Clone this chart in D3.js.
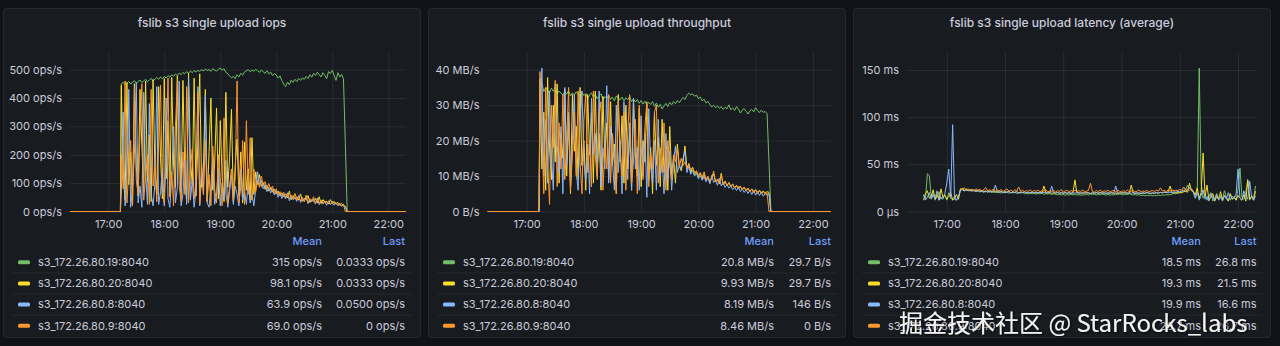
<!DOCTYPE html>
<html>
<head>
<meta charset="utf-8">
<script src="https://cdn.jsdelivr.net/npm/d3@7"></script>
<style>
	body { margin: 0; background: #111217; }
	svg { display: block; font-family: Inter, "Noto Sans", sans-serif; }
</style>
</head>
<body>
<svg id="chart" width="1280" height="346"></svg>
<script>
// series names / colours (legend order)
const hosts = ['s3_172.26.80.19:8040', 's3_172.26.80.20:8040', 's3_172.26.80.8:8040', 's3_172.26.80.9:8040'];
const hostColors = ['#73bf69', '#fade2a', '#8ab8ff', '#ff9830'];

// time axis
const rangeStart = '16:19', rangeEnd = '22:19';
const hourTicks = ['17:00', '18:00', '19:00', '20:00', '21:00', '22:00'];
const stepMin = 2; // samples every 2 minutes
const burstStart = '17:14', burstIdleBefore = '17:13', burstIdleAfter = '21:16';
const latStart = '16:36', latOrangeStart = '17:14';

// ---- iops (ops/s), 17:14 .. 21:14 ----
const iopsGreen = [
	450,455,446,452,458,449,455,461,452,458,463,454,460,466,457,463,469,460,466,472,
	466,474,468,476,470,479,473,482,476,485,479,488,482,490,485,493,487,495,489,497,
	491,498,493,500,495,502,497,500,494,503,498,495,501,506,498,503,490,486,478,471,
	476,468,482,474,487,480,492,496,500,492,499,494,501,496,490,499,492,487,496,485,
	491,479,486,481,470,478,461,449,440,456,447,463,455,466,458,469,462,471,465,476,
	468,482,473,487,479,491,482,474,489,480,468,493,486,497,480,462,489,474,483,468,240];
const iopsYellow = [
	445,130,40,455,95,210,25,450,160,55,430,230,70,460,105,270,35,465,140,60,
	440,190,45,468,115,320,55,472,160,85,478,210,65,462,135,35,488,185,95,470,
	55,240,485,85,160,430,35,210,400,75,170,365,45,320,125,35,420,85,190,360,
	35,160,255,55,210,30,245,75,150,40,260,60,140,95,130,88,102,78,92,72,
	86,68,78,62,72,56,66,52,62,48,72,42,56,46,52,40,62,36,46,42,
	56,32,42,36,46,30,52,28,42,32,36,26,42,28,36,26,32,22,28,20,18];
const iopsBlue = [
	60,350,20,110,430,15,80,200,455,30,90,15,420,140,25,380,60,20,100,440,
	25,70,150,20,400,45,15,120,300,30,85,460,20,60,180,25,470,40,110,15,
	75,440,20,130,60,410,30,15,90,200,25,60,150,20,100,40,180,15,70,130,
	25,90,60,20,150,40,70,25,110,30,60,20,80,140,95,110,80,95,70,85,
	65,80,58,72,50,64,46,60,44,66,38,52,42,48,36,56,32,44,38,50,
	28,40,34,44,26,48,24,38,30,34,22,38,26,32,22,30,20,26,18,24,16];
const iopsOrange = [
	200,80,460,30,150,250,20,440,110,60,280,450,40,120,200,25,430,90,160,35,
	250,445,70,30,180,470,50,140,20,300,460,90,35,210,60,440,30,150,220,45,
	100,420,25,170,60,250,35,130,20,230,80,30,200,120,20,330,60,25,90,150,
	40,120,460,30,90,250,25,320,60,260,40,150,70,110,85,125,92,105,80,98,
	76,90,64,80,58,70,54,68,50,62,46,58,42,64,40,52,38,50,34,58,
	30,46,38,52,28,44,30,40,26,38,30,34,24,36,28,32,24,30,20,26,0];
const iopsTicks = [0, 100, 200, 300, 400, 500];
const iopsMean = ['315 ops/s', '98.1 ops/s', '63.9 ops/s', '69.0 ops/s'];
const iopsLast = ['0.0333 ops/s', '0.0333 ops/s', '0.0500 ops/s', '0 ops/s'];

// ---- throughput (MB/s), 17:14 .. 21:14 ----
const tpGreen = [
	34.5,36.2,33.8,35.0,34.2,33.5,34.8,33.9,35.1,33.2,34.0,33.4,32.8,33.9,33.1,34.2,32.6,33.5,32.9,33.8,
	33.0,32.4,33.6,32.7,33.3,31.9,32.8,33.5,32.2,33.0,31.8,32.6,33.2,31.5,32.4,31.9,32.8,31.6,32.3,31.2,
	32.6,32.0,31.5,32.3,31.2,32.1,31.5,32.4,31.0,31.8,30.9,31.6,30.5,31.3,30.3,31.1,30.0,30.8,30.2,31.0,
	29.7,30.6,29.4,30.2,28.9,29.8,30.5,29.6,30.8,30.1,31.0,30.4,31.3,30.7,31.5,32.2,31.6,32.8,33.4,32.9,
	33.2,32.5,32.9,31.8,32.3,31.2,31.7,30.6,31.1,30.2,29.5,30.0,29.3,29.8,29.1,29.6,28.8,29.4,29.0,30.1,
	28.7,29.2,28.5,29.6,28.9,27.8,28.6,29.0,28.3,27.5,28.4,28.8,28.1,29.3,28.5,27.9,28.6,28.0,28.2,27.6,14.0];
const tpYellow = [
	37.5,12,28,6,37.8,18,9,30,14,36,8,22,15,34.5,10,26,5,33,17,24,
	9,35,13,20,6,33,16,28,8,34,12,22,6,32.5,15,25,9,31,13,19,
	5,33,14,27,8,30,12,22,6,31.5,16,10,29,7,20,14,30,9,18,5,
	28,13,21,7,26,11,17,6,24,10,15,8,19,13,11.5,14,18.5,12,13.5,11,
	12.5,10.5,11.2,9.8,11,9.2,10.4,8.8,9.6,8.2,9.4,10.6,8.4,8.9,7.8,10.8,7.5,8.6,7.2,8.2,
	6.9,7.8,6.6,7.4,6.4,7.2,6.1,6.9,5.9,6.6,5.7,6.4,5.5,6.2,5.4,6.0,5.3,5.8,5.2,5.6,5.4];
const tpBlue = [
	20,40.5,10,26,8,34,15,6,36,19,11,24,5,35,13,28,7,20,33,11,
	6,25,34,14,9,19,5,32,16,22,10,34,7,18,12,35.5,8,24,14,6,
	30,11,20,5,31,15,9,25,6,32,12,18,6,27,10,22,4,29,13,8,
	20,6,26,10,15,5,22,9,17,6,14,18.5,11,13,12,15,17,11,12.8,10.5,
	11.6,10,10.8,9.2,10.2,8.8,9.8,8.4,9.6,7.8,10.2,8.2,8.8,7.4,9.4,7.2,8.2,6.8,7.6,6.6,
	7.2,6.2,6.8,5.9,7.0,5.6,6.4,5.4,6.2,5.1,6.0,4.8,5.9,4.6,5.6,4.5,5.4,4.3,5.1,4.6,5.0];
const tpOrange = [
	39.5,22,5,35,14,2,30,18,37,7,25,12,33,9,20,35,6,16,28,10,
	34,14,5,26,33,11,20,7,34,16,9,27,31,6,18,12,33,8,22,15,
	5,31,17,10,28,6,22,33,8,14,26,5,30,19,9,24,31,7,16,12,
	28,30,8,18,11,25,6,20,13,9,16,14,18,12.5,15,13,14,12.2,13.5,11.8,
	12.4,11,11.5,10.2,10.8,9.6,11.2,9,10,8.6,9.4,11.4,8.4,9.2,8,10.2,7.6,8.4,7.4,8,
	7.1,7.6,6.8,7.2,6.5,7,6.2,6.8,5.8,6.5,5.6,6.3,5.3,6,5.1,5.8,5,5.6,4.9,5.3,0];
const tpTicks = [0, 10, 20, 30, 40];
const tpMean = ['20.8 MB/s', '9.93 MB/s', '8.19 MB/s', '8.46 MB/s'];
const tpLast = ['29.7 B/s', '29.7 B/s', '146 B/s', '0 B/s'];

// ---- latency (ms), 16:36 .. 22:18 (orange 17:14 .. 21:14) ----
const latGreen = [
	17,13,40,38,14,19,12,16,21,13,15,18,12,20,14,13,16,12,15,
	24,23,22.5,24,22,23.5,21.8,23,22.2,21.5,22.8,21,22,20.8,21.6,20.5,21.2,20.2,21,19.8,
	20.6,19.5,20.4,19.8,20.9,19.2,20.1,19.6,20.3,19,19.8,19.4,20.2,18.8,19.6,18.5,19.3,18.9,19.7,18.4,
	19.1,18.7,19.5,18.2,18.9,18.5,19.2,18,18.7,18.3,17.8,18.4,17.5,18.1,17.2,17.9,17.4,18.2,17.6,18.5,
	17.3,18,17.1,17.8,17.4,18.3,17.6,18.8,17.9,18.4,17.5,18.1,17.7,18.6,17.9,17.4,18.2,17.2,17.8,17.5,
	18.3,17.9,18.6,18.1,17.6,18.4,17.8,18.9,18.2,17.5,18,17.3,17.8,16.9,17.4,16.6,17.2,16.8,17.5,16.5,
	17.1,16.7,17.3,16.9,17.6,17.2,18,17.4,17.9,18.5,19.2,18.6,20.1,19.5,20.8,22,23.5,28,24.5,23,
	21.5,
	15,22,152,30,14,18,12,16,20,11,14,19,12,17,13,22,15,11,18,13,16,12,24,46,15,13,20,34,12,17,14,27];
const latYellow = [
	12,19,22,14,16,23,13,18,12,24,15,17,13,16,20,12,14,18,13,
	23,24.5,22,23.8,22.5,21.8,23.2,22,21.5,22.6,21.2,22.1,20.8,21.7,20.5,21.4,20.9,21.8,20.3,21.1,
	20.6,21.5,20.1,20.9,20.4,21.3,19.9,20.7,20.2,21,19.8,20.5,20.1,20.8,19.6,20.3,19.9,20.6,19.5,20.2,
	19.8,20.5,19.3,27,20.1,19.6,20.4,19.2,19.9,19.5,20.2,19.1,19.8,19.4,20,19.2,19.7,19.3,20.1,33.5,
	19.5,19.9,19.2,19.7,19.4,20.3,19.6,19.1,19.8,19.3,19.9,19.5,20.2,19.4,19.8,19.1,19.7,19.3,19.9,19.2,
	19.6,19.1,19.8,19.4,20.1,19.5,19.9,19.3,28,19.6,19.2,19.8,19.4,19,19.6,19.2,19.9,19.5,19.1,19.7,
	19.3,19.8,19.4,20.2,19.7,20.5,19.9,20.8,27,20.3,19.6,20.1,19.4,20.6,19.8,20.9,21.5,20.4,30,22,
	21,
	18,25,14,20,62,16,28,12,15,19,11,16,13,21,12,17,14,11,19,13,15,12,17,14,12,18,11,33,13,16,12,21.5];
const latBlue = [
	18,12,15,20,13,17,14,22,12,15,13,19,30,45,14,92,13,12,16,
	22,23.5,21.6,22.8,21.9,23,21.4,22.3,21.1,22,20.7,21.6,20.4,21.3,20.8,21.7,20.2,21.1,28,20.9,
	20.3,21.2,20,20.8,20.4,21.1,19.9,20.6,20.2,20.9,19.8,20.5,20,20.7,19.6,20.3,19.9,20.6,19.5,20.2,
	19.8,20.4,19.6,20.3,19.7,20.1,19.5,27,19.9,19.4,20.2,19.6,20,19.3,19.8,19.5,20.1,19.2,19.7,19.4,
	20,19.3,19.8,19.5,20.1,19.4,19.9,19.2,19.7,19.5,20.1,19.3,19.8,19.4,19.9,19.2,19.7,19.5,20,19.3,
	27,19.6,19.2,19.9,19.4,19.8,19.1,19.6,19.3,20,19.5,19.1,19.7,19.3,19.9,19.4,20.3,19.6,19.2,19.8,
	19.4,20.1,19.6,20.4,19.9,20.7,20.2,19.8,20.6,20.1,21,20.5,21.3,20.8,21.8,22.5,21.6,23.2,25,22.4,
	20,
	14,20,12,17,23,13,16,11,19,14,12,18,13,15,11,17,13,20,12,16,14,19,45,14,12,22,16,13,32,15,12,16.6];
const latOrange = [
	24.5,23,25.2,22.4,24,22.8,23.6,21.9,24.2,22.5,23.4,21.8,22.9,25.5,21.6,23.2,22,23.8,21.4,22.7,
	21.9,23.4,21.2,22.6,23.9,21.5,22.8,21,23.1,21.7,26,21.3,22.5,20.9,22.2,21.4,23,20.8,22.4,21.2,
	22.8,20.9,22.1,21.5,23.3,20.6,21.9,21.2,22.6,20.7,22,21.4,23.4,20.5,21.8,22.4,20.9,22.2,21.1,22.7,
	20.8,22.1,21.3,22.9,20.6,21.7,22.3,30,21.2,20.5,22.4,21,22.8,20.7,21.9,21.3,22.5,20.6,21.8,22.2,
	20.9,22.6,21.4,20.7,22.1,21.2,22.8,20.8,21.6,22.3,20.9,21.5,22.9,20.6,21.8,21.1,22.4,20.8,21.7,22.2,
	21.3,22.7,21.6,25,21.9,22.4,21.2,22.8,21.6,23.1,21.9,22.6,22.2,23.4,22.5,26,22.7,23.6,22.4,24,
	22];
const latTicks = [0, 50, 100, 150];
const latMean = ['18.5 ms', '19.3 ms', '19.9 ms', '20.7 ms'];
const latLast = ['26.8 ms', '21.5 ms', '16.6 ms', '26.7 ms'];

const watermark = '掘金技术社区 @ StarRocks_labs';

/* ---------------------------------------------------------------- */

const parseHM = d3.timeParse('%H:%M');

function stamp(start, values) {
	const t0 = parseHM(start);
	return values.map((v, i) => ({ t: d3.timeMinute.offset(t0, i * stepMin), v: v }));
}

// flat zero before / after the upload burst
function burst(values) {
	return [{ t: parseHM(rangeStart), v: 0 }, { t: parseHM(burstIdleBefore), v: 0 }]
		.concat(stamp(burstStart, values))
		.concat([{ t: parseHM(burstIdleAfter), v: 0 }, { t: parseHM(rangeEnd), v: 0 }]);
}

const panels = [
	{
		title: 'fslib s3 single upload iops', x: 3, left: 70, right: 406, yMax: 562,
		ticks: iopsTicks, fmt: d => d + ' ops/s',
		series: [iopsGreen, iopsYellow, iopsBlue, iopsOrange].map(burst),
		mean: iopsMean, last: iopsLast, meanRight: 322, lastRight: 405
	},
	{
		title: 'fslib s3 single upload throughput', x: 428, left: 487.5, right: 831, yMax: 45,
		ticks: tpTicks, fmt: d => d === 0 ? '0 B/s' : d + ' MB/s',
		series: [tpGreen, tpYellow, tpBlue, tpOrange].map(burst),
		mean: tpMean, last: tpLast, meanRight: 774, lastRight: 831
	},
	{
		title: 'fslib s3 single upload latency (average)', x: 853, left: 907, right: 1256.5, yMax: 169,
		ticks: latTicks, fmt: d => d === 0 ? '0 µs' : d + ' ms',
		series: [stamp(latStart, latGreen), stamp(latStart, latYellow), stamp(latStart, latBlue), stamp(latOrangeStart, latOrange)],
		mean: latMean, last: latLast, meanRight: 1201, lastRight: 1256.5
	}
];

const svg = d3.select('#chart');
const panelW = 418, panelTop = 8, panelH = 330;
const plotTop = 52, plotBottom = 211.5;
const textColor = '#ccccdc', gridColor = 'rgba(240,250,255,0.08)';

const defs = svg.append('defs');
const shadow = defs.append('filter').attr('id', 'wmShadow')
	.attr('x', '-10%').attr('y', '-30%').attr('width', '120%').attr('height', '160%');
shadow.append('feDropShadow').attr('dx', 1).attr('dy', 1).attr('stdDeviation', 1.2)
	.attr('flood-color', '#000').attr('flood-opacity', 0.8);

panels.forEach((p, pi) => {
	const g = svg.append('g');

	g.append('rect')
		.attr('x', p.x + 0.5).attr('y', panelTop + 0.5)
		.attr('width', panelW - 1).attr('height', panelH - 1)
		.attr('rx', 3)
		.attr('fill', '#181b1f')
		.attr('stroke', 'rgba(204,204,220,0.10)');

	g.append('text')
		.attr('x', p.x + panelW / 2).attr('y', 27)
		.attr('text-anchor', 'middle')
		.attr('fill', textColor)
		.style('font-size', '12px').style('font-weight', 500)
		.text(p.title);

	const x = d3.scaleTime()
		.domain([parseHM(rangeStart), parseHM(rangeEnd)])
		.range([p.left, p.right]);
	const y = d3.scaleLinear()
		.domain([0, p.yMax])
		.range([plotBottom, plotTop]);

	// axes double as grid
	const xAxis = d3.axisBottom(x)
		.tickValues(hourTicks.map(parseHM))
		.tickFormat(d3.timeFormat('%H:%M'))
		.tickSize(-(plotBottom - plotTop))
		.tickPadding(9);
	const yAxis = d3.axisLeft(y)
		.tickValues(p.ticks)
		.tickFormat(p.fmt)
		.tickSize(-(p.right - p.left))
		.tickPadding(8);

	const gx = g.append('g').attr('transform', `translate(0,${plotBottom})`).call(xAxis);
	const gy = g.append('g').attr('transform', `translate(${p.left},0)`).call(yAxis);
	[gx, gy].forEach(a => {
		a.select('.domain').remove();
		a.selectAll('line').attr('stroke', gridColor);
		a.selectAll('text').attr('fill', textColor)
			.style('font-size', '11px').style('font-family', 'Inter, "Noto Sans", sans-serif');
	});

	// series
	g.append('clipPath').attr('id', 'clip' + pi)
		.append('rect').attr('x', p.left).attr('y', plotTop - 2)
		.attr('width', p.right - p.left).attr('height', plotBottom - plotTop + 4);

	const line = d3.line().x(d => x(d.t)).y(d => y(d.v));
	g.append('g').attr('clip-path', `url(#clip${pi})`)
		.selectAll('path')
		.data(p.series)
		.enter().append('path')
		.attr('d', line)
		.attr('fill', 'none')
		.attr('stroke', (d, i) => hostColors[i])
		.attr('stroke-width', 1)
		.attr('stroke-linejoin', 'round');

	// legend table
	const headY = 241, rowY0 = 262.3, rowH = 21.15;
	[['Mean', p.meanRight], ['Last', p.lastRight]].forEach(([h, xr]) => {
		g.append('text').attr('x', xr).attr('y', headY)
			.attr('dy', '0.35em').attr('text-anchor', 'end')
			.attr('fill', '#6e9fff')
			.style('font-size', '11px').style('font-weight', 500)
			.text(h);
	});

	const rows = g.selectAll('.row')
		.data(hosts)
		.enter().append('g')
		.attr('class', 'row')
		.attr('transform', (d, i) => `translate(0,${rowY0 + i * rowH})`);

	rows.filter((d, i) => i > 0).append('line')
		.attr('x1', p.x + 9).attr('x2', p.x + 409)
		.attr('y1', -rowH / 2).attr('y2', -rowH / 2)
		.attr('stroke', 'rgba(204,204,220,0.08)');
	rows.append('rect')
		.attr('x', p.x + 15).attr('y', -2)
		.attr('width', 12).attr('height', 4).attr('rx', 1.5)
		.attr('fill', (d, i) => hostColors[i]);
	rows.append('text')
		.attr('x', p.x + 35).attr('dy', '0.35em')
		.attr('fill', textColor).style('font-size', '11px')
		.text(d => d);
	rows.append('text')
		.attr('x', p.meanRight).attr('dy', '0.35em').attr('text-anchor', 'end')
		.attr('fill', textColor).style('font-size', '11px')
		.text((d, i) => p.mean[i]);
	rows.append('text')
		.attr('x', p.lastRight).attr('dy', '0.35em').attr('text-anchor', 'end')
		.attr('fill', textColor).style('font-size', '11px')
		.text((d, i) => p.last[i]);
});

// watermark sits over the last legend rows, as in the screenshot
svg.append('text')
	.attr('x', 899).attr('y', 332)
	.attr('fill', '#f2f2f2')
	.attr('filter', 'url(#wmShadow)')
	.style('font-family', '"Noto Sans CJK SC", "Noto Sans", sans-serif')
	.style('font-size', '24px')
	.text(watermark);
</script>
</body>
</html>
